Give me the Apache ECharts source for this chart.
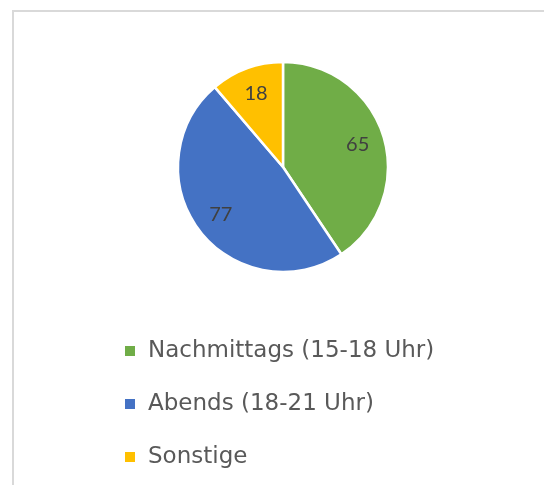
<!DOCTYPE html>
<html>
<head>
<meta charset="utf-8">
<script src="https://cdn.jsdelivr.net/npm/echarts@6/dist/echarts.min.js"></script>
<style>html,body{margin:0;padding:0;background:#fff;}#c{width:544px;height:485px;}</style>
</head>
<body>
<div id="c"></div>
<script>
var categories = ['Nachmittags (15-18 Uhr)', 'Abends (18-21 Uhr)', 'Sonstige'];
var values = [65, 77, 18];
var colors = ['#70AD47', '#4472C4', '#FFC000'];

var pieData = categories.map(function (n, i) {
  return { name: n, value: values[i], itemStyle: { color: colors[i] } };
});
var labelData = categories.map(function (n, i) {
  return { name: n, value: values[i] };
});

var chart = echarts.init(document.getElementById('c'), null, { renderer: 'canvas' });
chart.setOption({
  backgroundColor: '#ffffff',
  animation: false,
  graphic: [
    { type: 'polyline', shape: { points: [[13, 485], [13, 11], [544, 11]] },
      style: { stroke: '#d9d9d9', lineWidth: 2, fill: null }, silent: true }
  ],
  legend: {
    orient: 'vertical',
    left: 123,
    top: 339,
    padding: 0,
    itemWidth: 12,
    itemHeight: 12,
    itemGap: 29,
    icon: 'rect',
    selectedMode: false,
    textStyle: { fontFamily: 'DejaVu Sans', fontSize: 23, color: '#595959', lineHeight: 24, padding: [0, 0, 0, 7] },
    data: categories.map(function (n, i) { return { name: n, itemStyle: { color: colors[i] } }; })
  },
  series: [
    {
      type: 'pie',
      center: [283, 167],
      radius: [0, 105],
      startAngle: 90,
      clockwise: true,
      silent: true,
      itemStyle: { borderColor: '#ffffff', borderWidth: 2.5 },
      label: { show: false },
      labelLine: { show: false },
      emphasis: { disabled: true },
      data: pieData
    },
    {
      type: 'pie',
      center: [283, 167],
      radius: [0, 150],
      startAngle: 90,
      clockwise: true,
      silent: true,
      itemStyle: { color: 'rgba(0,0,0,0)' },
      label: { show: true, position: 'inside', formatter: '{c}', fontFamily: 'Lato', fontSize: 20, color: '#404040' },
      labelLine: { show: false },
      emphasis: { disabled: true },
      data: labelData
    }
  ]
});
</script>
</body>
</html>
